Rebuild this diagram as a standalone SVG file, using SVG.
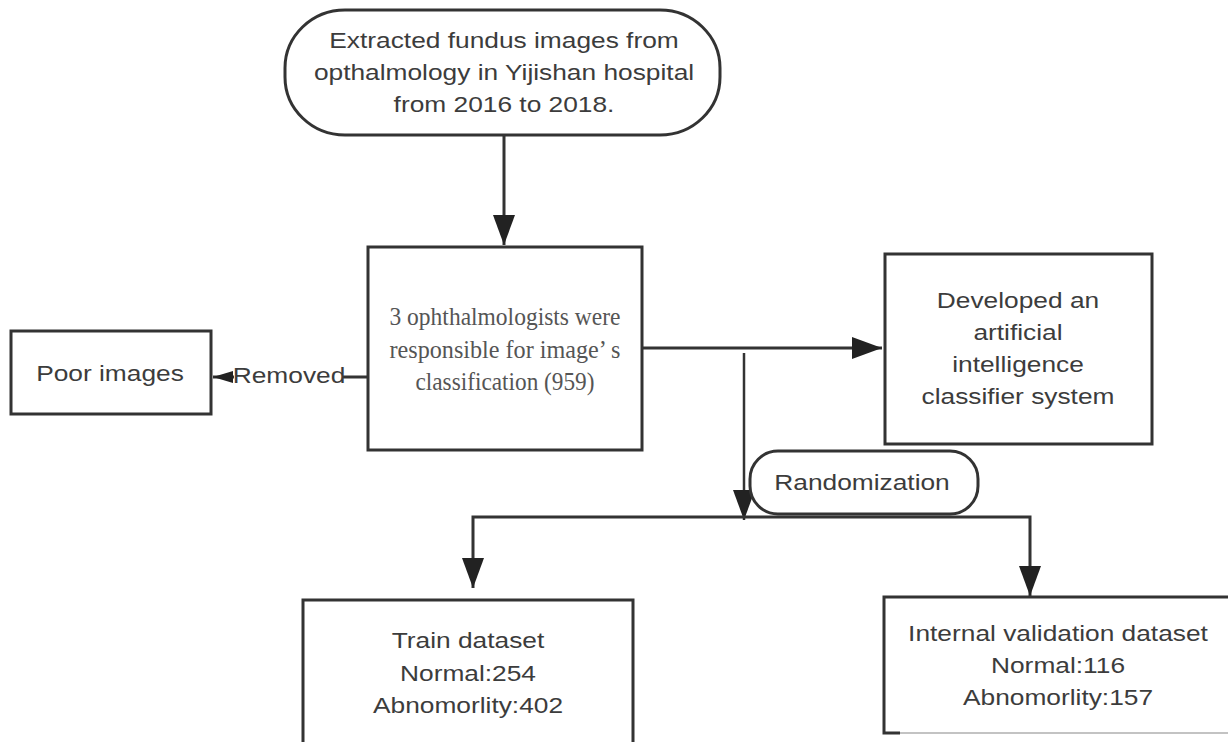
<svg xmlns="http://www.w3.org/2000/svg" width="1228" height="742" viewBox="0 0 1228 742">
<style>
.box{fill:#fff;stroke:#333;stroke-width:3}
.con{fill:none;stroke:#333;stroke-width:3}
.t{font-family:"Liberation Sans",Arial,sans-serif;font-size:22.5px;fill:#3c3c3c;text-anchor:middle}
.s{font-family:"Liberation Serif","Times New Roman",serif;font-size:26px;fill:#555;text-anchor:middle}
</style>
<defs>
<marker id="arr" viewBox="0 0 30 22" markerWidth="30" markerHeight="22" refX="30" refY="11" orient="auto" markerUnits="userSpaceOnUse">
<path d="M0,0 L30,11 L0,22 Z" fill="#222"/>
</marker>
<marker id="arrS" viewBox="0 0 20 12" markerWidth="20" markerHeight="12" refX="20" refY="6" orient="auto" markerUnits="userSpaceOnUse">
<path d="M0,0 L20,6 L0,12 Z" fill="#222"/>
</marker>
</defs>
<rect width="1228" height="742" fill="#fff"/>

<g id="connectors">
<path class="con" d="M504 136 V245" marker-end="url(#arr)"/>
<path class="con" d="M642 348 H882" marker-end="url(#arr)"/>
<path class="con" d="M744 353 V520" marker-end="url(#arr)" style="stroke-width:2.5"/>
<path class="con" d="M744 517 H473 V588" marker-end="url(#arr)"/>
<path class="con" d="M744 517 H1030 V596" marker-end="url(#arr)"/>
<path class="con" d="M368 377 H213" marker-end="url(#arrS)"/>
<rect x="234" y="362" width="109" height="26" fill="#fff"/>
<text class="t" transform="translate(289 383) scale(1.17 1)">Removed</text>
</g>

<g id="source">
<rect class="box" x="285" y="10" width="435" height="125" rx="60" ry="58"/>
<text class="t" transform="translate(504 48) scale(1.17 1)">Extracted fundus images from</text>
<text class="t" transform="translate(504 80) scale(1.17 1)">opthalmology in Yijishan hospital</text>
<text class="t" transform="translate(504 112) scale(1.17 1)">from 2016 to 2018.</text>
</g>

<g id="classification">
<rect class="box" x="368" y="247" width="274" height="203"/>
<text class="s" x="505" y="325" textLength="231" lengthAdjust="spacingAndGlyphs">3 ophthalmologists were</text>
<text class="s" x="505" y="358" textLength="231" lengthAdjust="spacingAndGlyphs">responsible for image’ s</text>
<text class="s" x="505" y="390" textLength="179" lengthAdjust="spacingAndGlyphs">classification (959)</text>
</g>

<g id="poor">
<rect class="box" x="11" y="331" width="200" height="83"/>
<text class="t" transform="translate(110 381) scale(1.17 1)">Poor images</text>
</g>

<g id="ai">
<rect class="box" x="885" y="254" width="267" height="190"/>
<text class="t" transform="translate(1018 308) scale(1.17 1)">Developed an</text>
<text class="t" transform="translate(1018 340) scale(1.17 1)">artificial</text>
<text class="t" transform="translate(1018 372) scale(1.17 1)">intelligence</text>
<text class="t" transform="translate(1018 404) scale(1.17 1)">classifier system</text>
</g>

<g id="randomization">
<rect class="box" x="750" y="451" width="228" height="63" rx="28" ry="28"/>
<text class="t" transform="translate(862 490) scale(1.17 1)">Randomization</text>
</g>

<g id="train">
<path class="box" d="M303 746 V600 H633 V746"/>
<text class="t" transform="translate(468 648) scale(1.17 1)">Train dataset</text>
<text class="t" transform="translate(468 681) scale(1.17 1)">Normal:254</text>
<text class="t" transform="translate(468 713) scale(1.17 1)">Abnomorlity:402</text>
</g>

<g id="validation">
<rect x="884" y="597" width="350" height="136" fill="#fff"/>
<path d="M900 733 H1230" fill="none" stroke="#888" stroke-width="1.2"/>
<path class="box" d="M1232 597 H884 V733 H900" style="fill:none"/>
<text class="t" transform="translate(1058 641) scale(1.17 1)">Internal validation dataset</text>
<text class="t" transform="translate(1058 673) scale(1.17 1)">Normal:116</text>
<text class="t" transform="translate(1058 705) scale(1.17 1)">Abnomorlity:157</text>
</g>
</svg>
